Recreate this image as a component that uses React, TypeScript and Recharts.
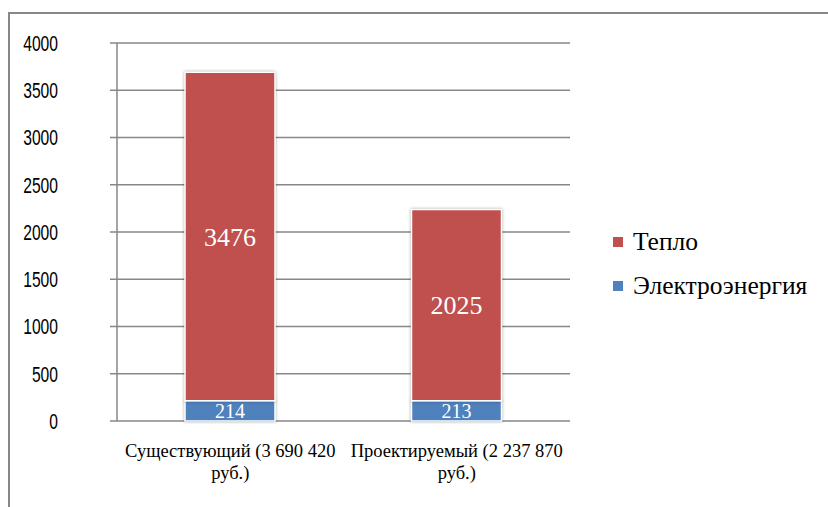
import { BarChart, Bar, XAxis, YAxis, CartesianGrid, LabelList } from 'recharts'

// категории и значения (тыс. руб.)
const categories = ['Существующий (3 690 420 руб.)', 'Проектируемый (2 237 870 руб.)']
const electricity = [214, 213]
const heat = [3476, 2025]
const yTicks = [0, 500, 1000, 1500, 2000, 2500, 3000, 3500, 4000]

const series = [
  { key: 'heat', name: 'Тепло', color: '#C0504D', labelSize: 26 },
  { key: 'electricity', name: 'Электроэнергия', color: '#4F81BD', labelSize: 20 },
]

const data = categories.map((name, i) => ({
  name,
  electricity: electricity[i],
  heat: heat[i],
}))

// границы категорий для засечек оси X
const edgeTicks = [...categories.map((_, i) => i), categories.length]

const serif = '"Liberation Serif", "Times New Roman", serif'
const axisColor = '#878787'

function CategoryTick({ x, y, payload }: any) {
  const text: string = payload.value
  const cut = text.lastIndexOf(' ')
  const lines = [text.slice(0, cut), text.slice(cut + 1)]
  return (
    <text x={x} y={y} textAnchor="middle" fontFamily={serif} fontSize={18.5} fill="#000">
      {lines.map((line, i) => (
        <tspan key={i} x={x} y={y + 36 + i * 22}>
          {line}
        </tspan>
      ))}
    </text>
  )
}

// узкие цифры, как у Calibri
function ValueTick({ x, y, payload }: any) {
  const label = String(payload.value)
  return (
    <text
      x={x}
      y={y}
      dy="0.36em"
      textAnchor="end"
      fontFamily='"Liberation Sans", sans-serif'
      fontSize={22}
      fill="#000"
      textLength={label.length * 8.7}
      lengthAdjust="spacingAndGlyphs"
    >
      {label}
    </text>
  )
}

export default function App() {
  return (
    <div style={{ position: 'absolute', left: 0, top: 0, width: 828, height: 507, overflow: 'hidden', background: '#fff' }}>
      <style>{`.recharts-bar-rectangle path { filter: drop-shadow(0 0 1.5px rgba(0,0,0,0.35)); }`}</style>
      <div style={{ position: 'absolute', left: 0, top: 0 }}>
        <BarChart width={828} height={507} data={data} margin={{ top: 43, right: 258, bottom: 0, left: 0 }}>
          <CartesianGrid vertical={false} stroke={axisColor} strokeWidth={1.5} />
          <XAxis
            xAxisId="edges"
            type="number"
            domain={[0, categories.length]}
            ticks={edgeTicks}
            allowDataOverflow
            height={0}
            tickSize={6}
            tickFormatter={() => ''}
            stroke={axisColor}
            strokeWidth={1.5}
          />
          <XAxis
            xAxisId="cat"
            dataKey="name"
            height={86}
            axisLine={false}
            tickLine={false}
            tickSize={0}
            tickMargin={0}
            interval={0}
            tick={<CategoryTick />}
          />
          <YAxis
            width={117}
            domain={[0, 4000]}
            ticks={yTicks}
            tickSize={7}
            tickMargin={52}
            stroke={axisColor}
            strokeWidth={1.5}
            tick={<ValueTick />}
          />
          {[...series].reverse().map((s) => (
            <Bar
              key={s.key}
              xAxisId="cat"
              dataKey={s.key}
              name={s.name}
              stackId="a"
              fill={s.color}
              stroke="#fff"
              strokeWidth={1.5}
              barSize={90}
              isAnimationActive={false}
            >
              <LabelList dataKey={s.key} position="center" fill="#fff" fontSize={s.labelSize} fontFamily={serif} />
            </Bar>
          ))}
        </BarChart>
      </div>
      {/* рамка области диаграммы */}
      <div
        style={{
          position: 'absolute',
          left: 8,
          top: 12,
          width: 818,
          height: 493,
          borderTop: `2px solid ${axisColor}`,
          borderLeft: `2.5px solid ${axisColor}`,
          pointerEvents: 'none',
        }}
      />
      {/* легенда */}
      <div style={{ position: 'absolute', left: 613, top: 226, fontFamily: serif, fontSize: 25.5 }}>
        {series.map((s) => (
          <div key={s.key} style={{ display: 'flex', alignItems: 'center', height: 32, marginBottom: 12 }}>
            <span style={{ width: 10, height: 10, background: s.color, marginRight: 10 }} />
            <span>{s.name}</span>
          </div>
        ))}
      </div>
    </div>
  )
}
